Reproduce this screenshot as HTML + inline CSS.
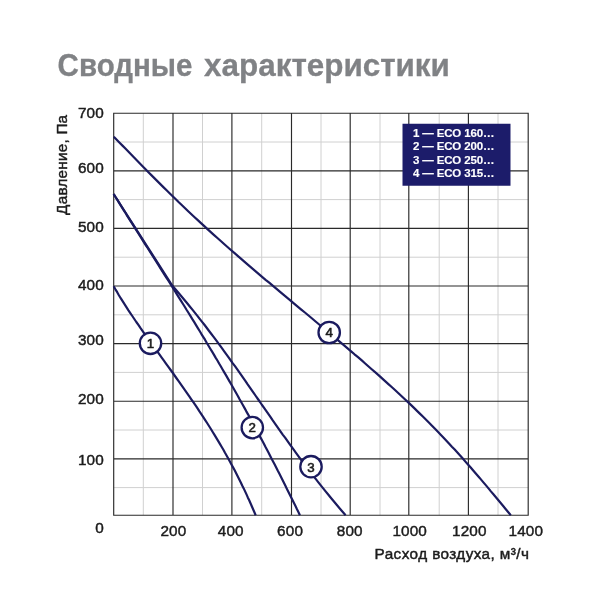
<!DOCTYPE html>
<html lang="ru">
<head>
<meta charset="utf-8">
<title>Сводные характеристики</title>
<style>
html,body{margin:0;padding:0;background:#fff;}
body{width:600px;height:600px;overflow:hidden;font-family:"Liberation Sans",Arial,sans-serif;}
svg{display:block;}
svg text{font-family:"Liberation Sans",Arial,sans-serif;}
.ax text{font-size:15.3px;fill:#1c1c1c;stroke:#1c1c1c;stroke-width:0.45;letter-spacing:0.15px;}
</style>
</head>
<body>
<svg width="600" height="600" viewBox="0 0 600 600">
<rect width="600" height="600" fill="#ffffff"/>
<g id="title" font-size="30.9" font-weight="bold" fill="#808285" stroke="#808285" stroke-width="0.3"><text x="57.6" y="75.5" textLength="134.8" lengthAdjust="spacingAndGlyphs">Сводные</text><text x="204.1" y="75.5" textLength="245.8" lengthAdjust="spacingAndGlyphs">характеристики</text></g>
<path d="M143.30 113.20V515.20M113.70 487.60H528.20M202.50 113.20V515.20M113.70 430.00H528.20M261.70 113.20V515.20M113.70 372.40H528.20M321.00 113.20V515.20M113.70 314.80H528.20M380.00 113.20V515.20M113.70 257.20H528.20M439.20 113.20V515.20M113.70 199.60H528.20M498.00 113.20V515.20M113.70 142.00H528.20" stroke="#d0d0d0" stroke-width="1" fill="none"/>
<path d="M113.70 112.70V515.70M113.20 515.20H528.70M173.00 112.70V515.70M113.20 458.80H528.70M231.90 112.70V515.70M113.20 401.20H528.70M291.50 112.70V515.70M113.20 343.60H528.70M350.20 112.70V515.70M113.20 286.00H528.70M408.80 112.70V515.70M113.20 228.40H528.70M468.40 112.70V515.70M113.20 170.80H528.70M528.20 112.70V515.70M113.20 113.20H528.70" stroke="#2a2a2a" stroke-width="1.15" fill="none"/>
<g fill="none" stroke="#1b1b5f" stroke-width="2.2" stroke-linejoin="round"><path d="M113.7 286.3L115.4 289.3L117.2 292.2L118.9 295.2L120.7 298.2L122.6 301.2L124.5 304.1L126.4 307.1L128.3 310.1L130.3 313.1L132.3 316.0L134.3 319.0L136.3 322.0L138.4 324.9L140.4 327.9L142.5 330.9L144.6 333.9L146.7 336.8L148.9 339.8L151.0 342.8L153.1 345.8L155.3 348.7L157.4 351.7L159.6 354.7L161.7 357.6L163.9 360.6L166.0 363.6L168.2 366.6L170.3 369.5L172.5 372.5L174.6 375.5L176.7 378.5L178.8 381.4L180.9 384.4L183.0 387.4L185.1 390.3L187.2 393.3L189.3 396.3L191.3 399.3L193.3 402.2L195.4 405.2L197.4 408.2L199.3 411.2L201.3 414.1L203.3 417.1L205.2 420.1L207.1 423.0L209.0 426.0L210.9 429.0L212.7 432.0L214.5 434.9L216.3 437.9L218.1 440.9L219.9 443.9L221.6 446.8L223.4 449.8L225.0 452.8L226.7 455.7L228.4 458.7L230.0 461.7L231.6 464.7L233.2 467.6L234.8 470.6L236.3 473.6L237.8 476.6L239.3 479.5L240.8 482.5L242.2 485.5L243.7 488.4L245.1 491.4L246.5 494.4L247.8 497.4L249.2 500.3L250.5 503.3L251.8 506.3L253.1 509.3L254.4 512.2L255.7 515.2"/><path d="M113.7 194.0L115.5 197.0L117.4 199.9L119.2 202.9L121.0 205.9L122.9 208.9L124.8 211.8L126.6 214.8L128.5 217.8L130.4 220.8L132.2 223.7L134.1 226.7L136.0 229.7L137.9 232.7L139.8 235.6L141.7 238.6L143.5 241.6L145.4 244.6L147.3 247.5L149.2 250.5L151.1 253.5L153.0 256.5L154.9 259.4L156.8 262.4L158.7 265.4L160.5 268.4L162.4 271.3L164.3 274.3L166.2 277.3L168.1 280.2L170.0 283.2L171.8 286.2L173.7 289.2L175.6 292.1L177.4 295.1L179.3 298.1L181.2 301.1L183.0 304.0L184.9 307.0L186.7 310.0L188.6 313.0L190.4 315.9L192.2 318.9L194.1 321.9L195.9 324.9L197.7 327.8L199.5 330.8L201.3 333.8L203.2 336.8L205.0 339.7L206.7 342.7L208.5 345.7L210.3 348.7L212.1 351.6L213.9 354.6L215.6 357.6L217.4 360.5L219.1 363.5L220.9 366.5L222.6 369.5L224.3 372.4L226.1 375.4L227.8 378.4L229.5 381.4L231.2 384.3L232.9 387.3L234.6 390.3L236.3 393.3L238.0 396.2L239.6 399.2L241.3 402.2L243.0 405.2L244.6 408.1L246.2 411.1L247.9 414.1L249.5 417.1L251.1 420.0L252.8 423.0L254.4 426.0L256.0 429.0L257.6 431.9L259.2 434.9L260.7 437.9L262.3 440.8L263.9 443.8L265.4 446.8L267.0 449.8L268.6 452.7L270.1 455.7L271.6 458.7L273.2 461.7L274.7 464.6L276.2 467.6L277.7 470.6L279.3 473.6L280.8 476.5L282.3 479.5L283.8 482.5L285.3 485.5L286.7 488.4L288.2 491.4L289.7 494.4L291.2 497.4L292.6 500.3L294.1 503.3L295.6 506.3L297.0 509.3L298.5 512.2L299.9 515.2"/><path d="M113.6 194L172.4 285.8L175.0 288.8L177.6 291.8L180.1 294.7L182.6 297.7L185.1 300.7L187.6 303.7L190.0 306.7L192.4 309.6L194.8 312.6L197.2 315.6L199.5 318.6L201.9 321.6L204.2 324.5L206.5 327.5L208.7 330.5L211.0 333.5L213.2 336.4L215.5 339.4L217.7 342.4L219.9 345.4L222.1 348.4L224.2 351.3L226.4 354.3L228.6 357.3L230.7 360.3L232.8 363.3L235.0 366.2L237.1 369.2L239.2 372.2L241.3 375.2L243.4 378.2L245.5 381.1L247.5 384.1L249.6 387.1L251.7 390.1L253.8 393.1L255.8 396.0L257.9 399.0L260.0 402.0L262.0 405.0L264.1 407.9L266.2 410.9L268.3 413.9L270.4 416.9L272.4 419.9L274.5 422.8L276.6 425.8L278.7 428.8L280.8 431.8L282.9 434.8L285.1 437.7L287.2 440.7L289.3 443.7L291.5 446.7L293.7 449.7L295.8 452.6L298.0 455.6L300.2 458.6L302.4 461.6L304.7 464.6L306.9 467.5L309.2 470.5L311.5 473.5L313.8 476.5L316.1 479.4L318.4 482.4L320.8 485.4L323.2 488.4L325.6 491.4L328.0 494.3L330.4 497.3L332.9 500.3L335.4 503.3L337.9 506.3L340.4 509.2L343.0 512.2L345.6 515.2"/><path d="M113.8 136.7L116.7 139.7L119.6 142.7L122.5 145.6L125.4 148.6L128.3 151.6L131.2 154.6L134.1 157.6L137.0 160.5L139.9 163.5L142.8 166.5L145.8 169.5L148.7 172.5L151.6 175.4L154.6 178.4L157.6 181.4L160.6 184.4L163.6 187.4L166.6 190.3L169.6 193.3L172.7 196.3L175.8 199.3L178.8 202.3L182.0 205.2L185.1 208.2L188.2 211.2L191.4 214.2L194.6 217.2L197.8 220.1L201.0 223.1L204.3 226.1L207.5 229.1L210.8 232.1L214.1 235.1L217.4 238.0L220.8 241.0L224.1 244.0L227.5 247.0L230.9 250.0L234.3 252.9L237.7 255.9L241.2 258.9L244.6 261.9L248.1 264.9L251.6 267.8L255.1 270.8L258.6 273.8L262.1 276.8L265.6 279.8L269.2 282.7L272.7 285.7L276.3 288.7L279.8 291.7L283.4 294.7L287.0 297.6L290.6 300.6L294.1 303.6L297.7 306.6L301.3 309.6L304.9 312.5L308.5 315.5L312.1 318.5L315.6 321.5L319.2 324.5L322.8 327.4L326.4 330.4L329.9 333.4L333.5 336.4L337.0 339.4L340.5 342.3L344.1 345.3L347.6 348.3L351.1 351.3L354.5 354.3L358.0 357.2L361.5 360.2L364.9 363.2L368.3 366.2L371.7 369.2L375.1 372.1L378.5 375.1L381.8 378.1L385.1 381.1L388.4 384.1L391.7 387.0L395.0 390.0L398.2 393.0L401.4 396.0L404.6 399.0L407.7 401.9L410.9 404.9L414.0 407.9L417.0 410.9L420.1 413.9L423.1 416.8L426.1 419.8L429.1 422.8L432.0 425.8L435.0 428.8L437.9 431.8L440.7 434.7L443.6 437.7L446.4 440.7L449.2 443.7L451.9 446.7L454.7 449.6L457.4 452.6L460.1 455.6L462.8 458.6L465.4 461.6L468.0 464.5L470.7 467.5L473.2 470.5L475.8 473.5L478.4 476.5L480.9 479.4L483.4 482.4L486.0 485.4L488.5 488.4L490.9 491.4L493.4 494.3L495.9 497.3L498.4 500.3L500.9 503.3L503.4 506.3L505.8 509.2L508.3 512.2L510.8 515.2"/></g>
<rect x="402.5" y="123.75" width="108" height="62" fill="#1c1c6a"/>
<g id="legend" font-size="11.5" font-weight="bold" fill="#ffffff" stroke="#ffffff" stroke-width="0.15" letter-spacing="-0.15">
<text x="413" y="136.8">1 — ECO 160…</text>
<text x="413" y="150.3">2 — ECO 200…</text>
<text x="413" y="163.8">3 — ECO 250…</text>
<text x="413" y="177.4">4 — ECO 315…</text>
</g>
<g fill="#ffffff" stroke="#1b1b5f" stroke-width="2.3"><circle cx="150.5" cy="343.3" r="10.7"/><circle cx="252.3" cy="427.6" r="10.7"/><circle cx="311.0" cy="466.7" r="10.7"/><circle cx="329.2" cy="332.5" r="10.7"/></g>
<g font-size="13.3" fill="#1c1c1c" stroke="#1c1c1c" stroke-width="0.6" text-anchor="middle"><text x="150.5" y="348.1">1</text><text x="252.3" y="432.4">2</text><text x="311.0" y="471.5">3</text><text x="329.2" y="337.3">4</text></g>
<g class="ax" text-anchor="end"><text x="103.9" y="118.1">700</text><text x="103.9" y="173.4">600</text><text x="103.9" y="231.7">500</text><text x="103.9" y="289.9">400</text><text x="103.9" y="345.1">300</text><text x="103.9" y="403.6">200</text><text x="103.9" y="464.7">100</text><text x="104" y="533.2">0</text></g>
<g class="ax" text-anchor="middle"><text x="173.4" y="536.3">200</text><text x="230.8" y="536.3">400</text><text x="290.1" y="536.3">600</text><text x="349.8" y="536.3">800</text><text x="409.7" y="536.3">1000</text><text x="469.3" y="536.3">1200</text><text x="525.8" y="536.3">1400</text></g>
<g class="ax">
<text id="xlab" x="374.6" y="559.4" style="letter-spacing:0.41px">Расход воздуха, м³/ч</text>
<text id="ylab" transform="translate(66.8 214.9) rotate(-90)" style="letter-spacing:0.22px">Давление, Па</text>
</g>
</svg>
</body>
</html>
